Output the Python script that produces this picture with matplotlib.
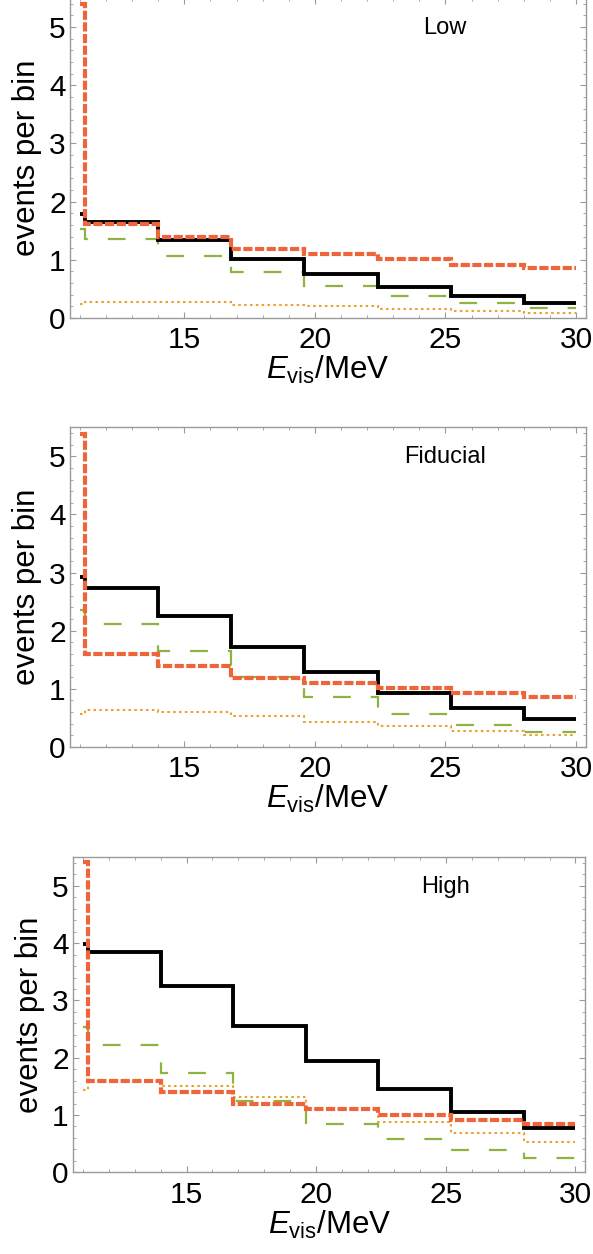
import numpy as np
import matplotlib.pyplot as plt
from matplotlib.ticker import MultipleLocator

plt.rcParams["font.family"] = ["Liberation Sans", "DejaVu Sans"]
plt.rcParams["mathtext.fontset"] = "custom"
plt.rcParams["mathtext.rm"] = "Liberation Sans"
plt.rcParams["mathtext.it"] = "Liberation Sans:italic"

# bin edges in MeV (first bin is very narrow)
edges = [11, 11.2, 14, 16.8, 19.6, 22.4, 25.2, 28, 30]

panel_names = ["Low", "Fiducial", "High"]

low_total = [1.78, 1.65, 1.34, 1.02, 0.76, 0.54, 0.38, 0.26]
low_red = [5.40, 1.62, 1.40, 1.19, 1.10, 1.01, 0.91, 0.86]
low_green = [1.53, 1.36, 1.07, 0.79, 0.55, 0.38, 0.25, 0.17]
low_orange = [0.24, 0.27, 0.27, 0.23, 0.20, 0.16, 0.12, 0.09]

fid_total = [2.92, 2.73, 2.25, 1.72, 1.28, 0.93, 0.66, 0.47]
fid_red = [5.38, 1.60, 1.39, 1.19, 1.09, 1.01, 0.92, 0.85]
fid_green = [2.36, 2.11, 1.65, 1.20, 0.85, 0.57, 0.38, 0.25]
fid_orange = [0.57, 0.63, 0.60, 0.53, 0.43, 0.36, 0.27, 0.21]

high_total = [3.99, 3.84, 3.25, 2.56, 1.95, 1.45, 1.06, 0.77]
high_red = [5.41, 1.59, 1.40, 1.19, 1.10, 1.00, 0.91, 0.85]
high_green = [2.54, 2.23, 1.73, 1.24, 0.85, 0.58, 0.38, 0.24]
high_orange = [1.44, 1.59, 1.51, 1.31, 1.10, 0.87, 0.68, 0.52]

panels = [
    (low_total, low_red, low_green, low_orange),
    (fid_total, fid_red, fid_green, fid_orange),
    (high_total, high_red, high_green, high_orange),
]

RED = "#EE653A"
GREEN = "#8DB440"
ORANGE = "#EBA030"
FRAME = "#9A9A9A"


def main() -> None:
    fig = plt.figure(figsize=(5.93, 12.54), dpi=100)
    rects = [
        [0.118, 0.7464, 0.870, 0.2552],
        [0.118, 0.4045, 0.870, 0.2547],
        [0.123, 0.0652, 0.864, 0.2512],
    ]

    for rect, name, (total, red, green, orange) in zip(rects, panel_names, panels):
        ax = fig.add_axes(rect)
        ax.stairs(green, edges, baseline=None, color=GREEN, lw=1.6,
                  linestyle=(0, (8, 9)))
        ax.stairs(orange, edges, baseline=None, color=ORANGE, lw=1.5,
                  linestyle=(0, (1.2, 1.6)))
        ax.stairs(total, edges, baseline=None, color="black", lw=2.8)
        ax.stairs(red, edges, baseline=None, color=RED, lw=3.0,
                  linestyle=(0, (2.2, 0.6)))

        ax.set_xlim(10.62, 30.38)
        ax.set_ylim(0, 5.5)
        ax.xaxis.set_minor_locator(MultipleLocator(1))
        ax.yaxis.set_major_locator(MultipleLocator(1))
        ax.yaxis.set_minor_locator(MultipleLocator(0.2))
        ax.set_xticks([15, 20, 25, 30])

        ax.tick_params(which="both", direction="in", top=True, right=True,
                       color=FRAME, labelsize=21.5)
        ax.tick_params(which="major", length=4.5, width=0.8)
        ax.tick_params(which="minor", length=2.5, width=0.6)
        ax.tick_params(axis="x", pad=6)
        ax.tick_params(axis="y", pad=3)
        for sp in ax.spines.values():
            sp.set_color(FRAME)
            sp.set_linewidth(1.0)

        ax.set_xlabel(r"$E_{\mathrm{vis}}$/MeV", fontsize=22.5, labelpad=0)
        ax.set_ylabel("events per bin", fontsize=22.5, labelpad=5)
        ax.text(0.727, 0.907, name, transform=ax.transAxes, fontsize=17,
                ha="center", va="center")

    fig.savefig("out.png", dpi=100)


if __name__ == "__main__":
    main()
